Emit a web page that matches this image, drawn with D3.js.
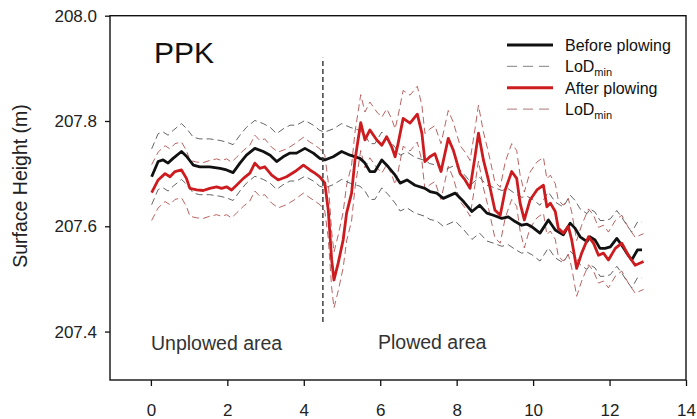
<!DOCTYPE html>
<html>
<head>
<meta charset="utf-8">
<script src="https://cdn.jsdelivr.net/npm/d3@7/dist/d3.min.js"></script>
<style>
  body { margin: 0; background: #fff; }
  svg text { font-family: Arial, "Liberation Sans", sans-serif; }
</style>
</head>
<body>
<div id="chart"></div>
<script>
// surface profile along the transect, before plowing (m)
var distBefore = [0.02,0.19,0.32,0.45,0.58,0.80,0.93,1.11,1.28,1.54,1.81,1.98,2.15,2.33,2.50,2.72,2.94,3.12,3.29,3.46,3.64,3.81,4.03,4.25,4.42,4.55,4.77,4.99,5.21,5.47,5.60,5.73,5.86,6.04,6.21,6.39,6.52,6.70,6.91,7.17,7.30,7.48,7.65,7.96,8.18,8.40,8.60,8.79,8.96,9.18,9.35,9.53,9.70,9.84,9.97,10.18,10.40,10.58,10.71,10.79,10.97,11.10,11.23,11.41,11.49,11.62,11.75,11.88,12.02,12.19,12.32,12.45,12.58,12.73,12.85];
var heightBefore = [207.694,207.723,207.726,207.720,207.729,207.742,207.733,207.716,207.713,207.713,207.710,207.707,207.702,207.720,207.735,207.748,207.742,207.735,207.723,207.732,207.739,207.739,207.748,207.739,207.729,207.726,207.732,207.742,207.735,207.729,207.720,207.704,207.704,207.726,207.713,207.697,207.682,207.688,207.678,207.672,207.666,207.663,207.653,207.663,207.647,207.628,207.640,207.625,207.621,207.615,207.618,207.609,207.602,207.604,207.599,207.587,207.612,207.593,207.587,207.584,207.606,207.596,207.580,207.571,207.580,207.574,207.558,207.558,207.561,207.577,207.564,207.549,207.536,207.555,207.555];

// same transect after plowing (m)
var distAfter = [0.02,0.19,0.37,0.50,0.63,0.80,0.93,1.02,1.20,1.37,1.54,1.72,1.85,1.98,2.11,2.24,2.42,2.59,2.72,2.85,2.98,3.16,3.33,3.55,3.77,3.99,4.16,4.29,4.42,4.55,4.64,4.73,4.79,4.90,5.03,5.12,5.25,5.34,5.49,5.60,5.73,5.91,6.04,6.17,6.30,6.39,6.47,6.60,6.78,6.97,7.09,7.17,7.30,7.43,7.59,7.78,7.91,8.09,8.22,8.35,8.48,8.57,8.70,8.83,9.00,9.14,9.27,9.44,9.57,9.66,9.77,9.92,10.10,10.27,10.36,10.45,10.58,10.66,10.79,10.92,11.01,11.14,11.27,11.45,11.58,11.71,11.84,11.97,12.15,12.32,12.49,12.67,12.89];
var heightAfter = [207.664,207.688,207.700,207.694,207.704,207.707,207.691,207.672,207.669,207.668,207.672,207.675,207.672,207.675,207.669,207.678,207.691,207.701,207.720,207.710,207.713,207.697,207.688,207.694,207.704,207.716,207.707,207.701,207.694,207.682,207.631,207.536,207.498,207.530,207.574,207.625,207.663,207.726,207.797,207.764,207.783,207.764,207.754,207.770,207.751,207.732,207.758,207.805,207.796,207.813,207.777,207.723,207.732,207.738,207.704,207.767,207.745,207.700,207.688,207.672,207.732,207.777,207.726,207.688,207.631,207.621,207.669,207.704,207.691,207.644,207.612,207.650,207.669,207.678,207.637,207.644,207.628,207.596,207.587,207.600,207.574,207.520,207.549,207.580,207.568,207.545,207.549,207.536,207.558,207.568,207.545,207.526,207.533];

// minimum level of detection, drawn as a band either side of each profile
var lodMin = 0.053;

var xTicks = [0, 2, 4, 6, 8, 10, 12, 14];
var yTicks = [207.4, 207.6, 207.8, 208.0];
var boundaryX = 4.5;
var boundaryRange = [207.418, 207.92];

var width = 697, height = 419;
var margin = {top: 15.7, right: 11, bottom: 39, left: 110};

var svg = d3.select("#chart").append("svg")
  .attr("width", width)
  .attr("height", height);

var x = d3.scaleLinear().domain([-1.07, 14]).range([margin.left, width - margin.right]);
var y = d3.scaleLinear().domain([207.308, 208.0]).range([height - margin.bottom, margin.top]);

function series(dist, h, off) {
  return dist.map(function (d, i) { return [d, h[i] + off]; });
}

var line = d3.line()
  .x(function (d) { return x(d[0]); })
  .y(function (d) { return y(d[1]); });

// LoD bands first so the thick lines sit on top
[[distBefore, heightBefore, "#4a4a4a"], [distAfter, heightAfter, "#b04848"]].forEach(function (s) {
  [lodMin, -lodMin].forEach(function (off) {
    svg.append("path")
      .attr("d", line(series(s[0], s[1], off)))
      .attr("fill", "none")
      .attr("stroke", s[2])
      .attr("stroke-width", 1)
      .attr("stroke-dasharray", "7,4")
      .attr("opacity", 0.85);
  });
});

svg.append("path")
  .attr("d", line(series(distBefore, heightBefore, 0)))
  .attr("fill", "none")
  .attr("stroke", "#111")
  .attr("stroke-width", 2.8)
  .attr("stroke-linejoin", "round");

svg.append("path")
  .attr("d", line(series(distAfter, heightAfter, 0)))
  .attr("fill", "none")
  .attr("stroke", "#cc1c1f")
  .attr("stroke-width", 2.8)
  .attr("stroke-linejoin", "round");

// boundary between unplowed and plowed area
svg.append("line")
  .attr("x1", x(boundaryX)).attr("x2", x(boundaryX))
  .attr("y1", y(boundaryRange[0])).attr("y2", y(boundaryRange[1]))
  .attr("stroke", "#333")
  .attr("stroke-width", 1.4)
  .attr("stroke-dasharray", "5,3");

// axes
var yAxis = svg.append("g")
  .attr("transform", "translate(" + margin.left + ",0)")
  .call(d3.axisLeft(y).tickValues(yTicks).tickFormat(d3.format(".1f")).tickSize(5).tickPadding(8));
var xAxis = svg.append("g")
  .attr("transform", "translate(0," + (height - margin.bottom) + ")")
  .call(d3.axisBottom(x).tickValues(xTicks).tickSize(6).tickPadding(18));

[yAxis, xAxis].forEach(function (a) {
  a.select(".domain").remove();
  a.selectAll(".tick line").attr("stroke", "#111").attr("stroke-width", 1.3);
  a.selectAll(".tick text").attr("fill", "#222").style("font-size", "17px");
});

svg.append("rect")
  .attr("x", margin.left).attr("y", margin.top)
  .attr("width", width - margin.left - margin.right)
  .attr("height", height - margin.bottom - margin.top)
  .attr("fill", "none")
  .attr("stroke", "#111")
  .attr("stroke-width", 1.4);

svg.append("text")
  .attr("transform", "translate(27," + 186 + ") rotate(-90)")
  .attr("text-anchor", "middle")
  .attr("fill", "#222")
  .style("font-size", "19.5px")
  .text("Surface Height (m)");

svg.append("text")
  .attr("x", 154).attr("y", 63)
  .attr("fill", "#111")
  .style("font-size", "30px")
  .text("PPK");

svg.append("text")
  .attr("x", 151).attr("y", 350)
  .attr("fill", "#333")
  .style("font-size", "19.5px")
  .text("Unplowed area");

svg.append("text")
  .attr("x", 378).attr("y", 349)
  .attr("fill", "#333")
  .style("font-size", "19.5px")
  .text("Plowed area");

// legend
var legendItems = [
  {label: "Before plowing", color: "#111", width: 2.8, dash: null, sub: false},
  {label: "LoD", color: "#9a9a9a", width: 1.2, dash: "10,6", sub: true},
  {label: "After plowing", color: "#cc1c1f", width: 3, dash: null, sub: false},
  {label: "LoD", color: "#bf9393", width: 1.2, dash: "10,6", sub: true}
];

var legend = svg.append("g").attr("transform", "translate(507,45)");
var rows = legend.selectAll("g").data(legendItems).enter().append("g")
  .attr("transform", function (d, i) { return "translate(0," + (i * 21.4) + ")"; });

rows.append("line")
  .attr("x1", 0).attr("x2", 46)
  .attr("stroke", function (d) { return d.color; })
  .attr("stroke-width", function (d) { return d.width; })
  .attr("stroke-dasharray", function (d) { return d.dash; });

var labels = rows.append("text")
  .attr("x", 58).attr("y", 5.8)
  .attr("fill", "#111")
  .style("font-size", "16px");
labels.append("tspan").text(function (d) { return d.label; });
labels.filter(function (d) { return d.sub; })
  .append("tspan")
  .attr("dy", 4)
  .style("font-size", "11px")
  .text("min");
</script>
</body>
</html>
